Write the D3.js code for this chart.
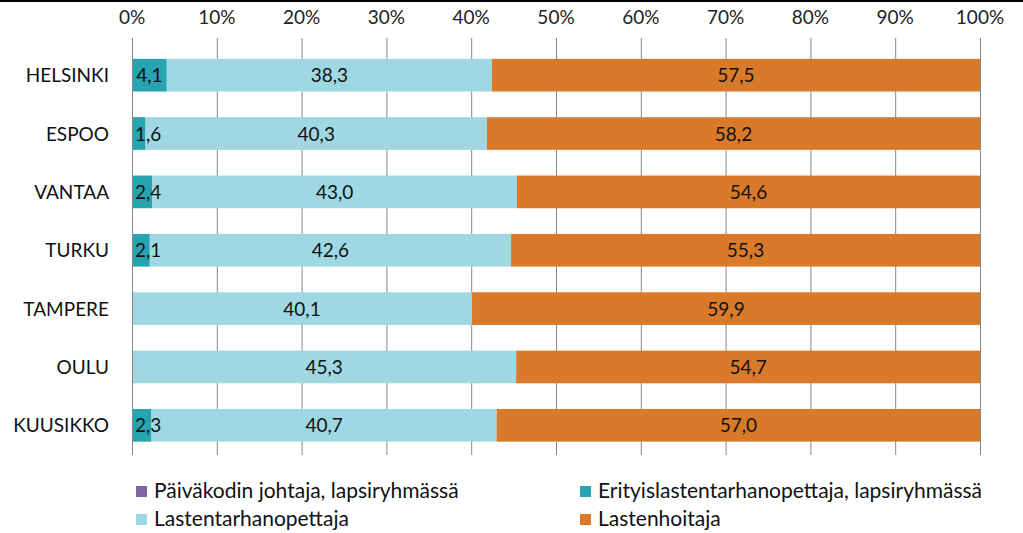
<!DOCTYPE html>
<html><head><meta charset="utf-8">
<script src="https://cdn.jsdelivr.net/npm/d3@7"></script>
<style>body{margin:0;background:#fff}svg{display:block}</style>
</head><body>
<svg id="c" width="1023" height="533"></svg>
<script>
const categories = ["HELSINKI","ESPOO","VANTAA","TURKU","TAMPERE","OULU","KUUSIKKO"];
const seriesNames = ["Päiväkodin johtaja, lapsiryhmässä","Erityislastentarhanopettaja, lapsiryhmässä","Lastentarhanopettaja","Lastenhoitaja"];
const johtaja = [0,0,0,0,0,0,0];
const erityis = [4.1,1.6,2.4,2.1,0,0,2.3];
const lto = [38.3,40.3,43.0,42.6,40.1,45.3,40.7];
const hoitaja = [57.5,58.2,54.6,55.3,59.9,54.7,57.0];
const tickValues = [0,10,20,30,40,50,60,70,80,90,100];
const colors = ["#8064a2","#28a4b0","#9fd8e2","#d97a2b"];

const font = "Lato, 'Open Sans', sans-serif";
const svg = d3.select("#c");
svg.append("rect").attr("x",0).attr("y",0).attr("width",1023).attr("height",2).attr("fill","#000");

const x = d3.scaleLinear().domain([0,100]).range([132,980]);
const y = d3.scaleBand().domain(categories).range([46,454.5]).paddingInner(0.44).paddingOuter(0.22);

// gridlines
svg.append("g").selectAll("line").data(tickValues).join("line")
  .attr("x1",d=>x(d)+0.5).attr("x2",d=>x(d)+0.5).attr("y1",38).attr("y2",455)
  .attr("stroke","#868686").attr("stroke-width",1);

// top axis labels
svg.append("g").selectAll("text").data(tickValues).join("text")
  .attr("x",d=>x(d)).attr("y",24).attr("text-anchor","middle")
  .attr("font-family",font).attr("font-size",19).attr("fill","#222")
  .text(d=>d+"%");

const seriesData = [johtaja,erityis,lto,hoitaja];
const rows = categories.map((c,i)=>({cat:c, vals:seriesData.map(s=>s[i])}));
rows.forEach(r=>{
  const total = d3.sum(r.vals);
  let acc=0;
  r.segs = r.vals.map((v,k)=>{const p=v/total*100; const s={k,v,x0:acc,x1:acc+p}; acc+=p; return s;});
});

const gBars = svg.append("g");
const gLab = svg.append("g");
rows.forEach(r=>{
  const yy = y(r.cat);
  r.segs.filter(s=>s.v>0).forEach(s=>{
    gBars.append("rect").attr("x",x(s.x0)).attr("y",yy).attr("width",x(s.x1)-x(s.x0)).attr("height",y.bandwidth())
      .attr("fill",colors[s.k]);
    const t = gLab.append("text").attr("y",yy+y.bandwidth()/2+7)
      .attr("font-family",font).attr("font-size",19).attr("fill","#111")
      .text(s.v.toFixed(1).replace(".",","));
    const w = t.node().getComputedTextLength();
    const cx = Math.max((x(s.x0)+x(s.x1))/2, x(0)+3+w/2);
    t.attr("x",cx).attr("text-anchor","middle");
  });
});

// left axis line
svg.append("line").attr("x1",x(0)+0.5).attr("x2",x(0)+0.5).attr("y1",38).attr("y2",455).attr("stroke","#868686");
gLab.raise();

// category labels
svg.append("g").selectAll("text").data(categories).join("text")
  .attr("x",109).attr("y",d=>y(d)+y.bandwidth()/2+7).attr("text-anchor","end")
  .attr("font-family",font).attr("font-size",19).attr("fill","#111").text(d=>d);

// legend
const legPos = [[136,491],[580,491],[136,519],[580,519]];
seriesNames.forEach((n,i)=>{
  const [lx,ly]=legPos[i];
  svg.append("rect").attr("x",lx).attr("y",ly-5).attr("width",11).attr("height",11).attr("fill",colors[i]);
  svg.append("text").attr("x",lx+18).attr("y",ly+7).attr("font-family",font).attr("font-size",21).attr("fill","#111").text(n);
});
</script>
</body></html>
